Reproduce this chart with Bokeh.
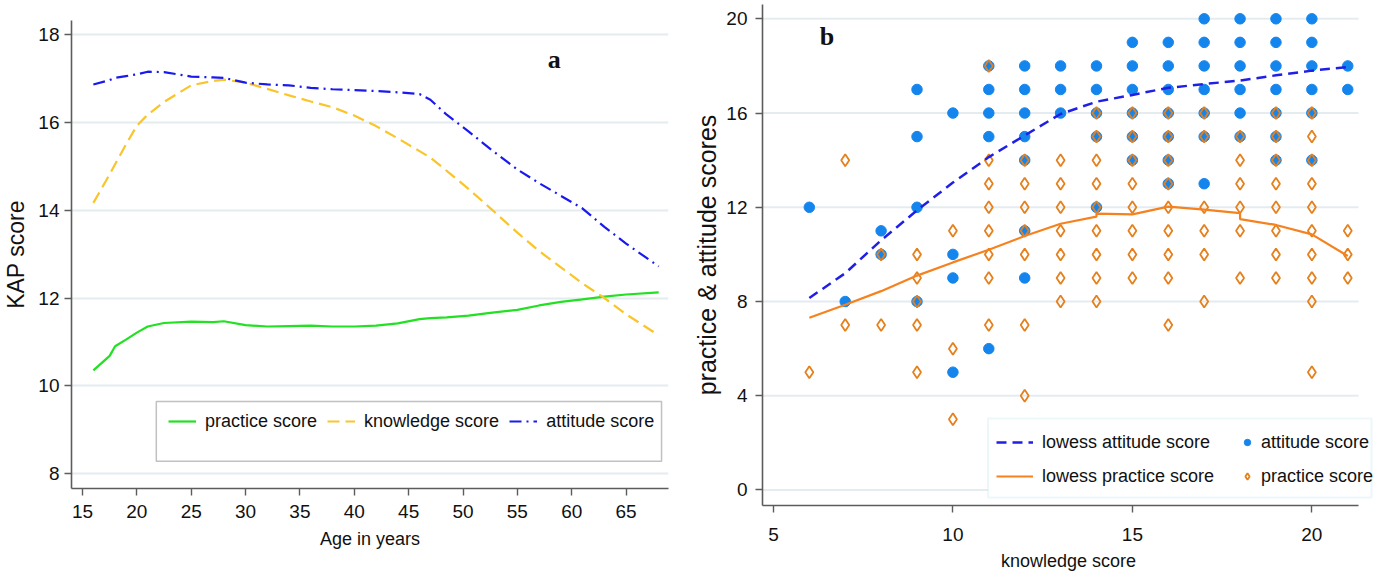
from bokeh.plotting import figure
from bokeh.layouts import row
from bokeh.models import Legend, LegendItem, FixedTicker, Range1d, BoxAnnotation, Label
from bokeh.embed import file_html
from bokeh.resources import INLINE

# ---------------- Panel a: lowess of KAP scores by age ----------------
age = [16, 17.5, 18, 19, 20, 21, 22.5, 25, 27, 28, 30, 32, 34, 36, 38, 40, 42, 44,
       46, 47, 48.5, 50.5, 52.5, 55, 57, 59, 61, 63, 65, 68]
practice_a = [10.35, 10.68, 10.9, 11.05, 11.21, 11.35, 11.43, 11.46, 11.45, 11.47, 11.38,
              11.35, 11.36, 11.37, 11.35, 11.35, 11.37, 11.42, 11.52, 11.54, 11.56, 11.6,
              11.66, 11.73, 11.83, 11.91, 11.97, 12.03, 12.08, 12.13]
knowledge_a = [14.17, 14.82, 15.05, 15.5, 15.93, 16.18, 16.47, 16.85, 16.95, 16.98, 16.91,
               16.77, 16.62, 16.48, 16.35, 16.16, 15.92, 15.64, 15.35, 15.2, 14.9, 14.49,
               14.05, 13.49, 13.07, 12.7, 12.33, 12.0, 11.63, 11.15]
attitude_a = [16.87, 16.97, 17.02, 17.06, 17.1, 17.16, 17.15, 17.05, 17.03, 17.02, 16.91,
              16.87, 16.85, 16.79, 16.76, 16.74, 16.72, 16.69, 16.65, 16.52, 16.18, 15.8,
              15.4, 14.93, 14.62, 14.33, 14.04, 13.62, 13.24, 12.72]
a_xticks = [15, 20, 25, 30, 35, 40, 45, 50, 55, 60, 65]
a_yticks = [8, 10, 12, 14, 16, 18]

# ---------------- Panel b: scores vs knowledge score ----------------
att_k = [6, 7, 8, 8, 9, 9, 9, 9, 10, 10, 10, 10, 11, 11, 11, 11, 11,
         12, 12, 12, 12, 12, 12, 12, 13, 13, 13, 14, 14, 14, 14, 14,
         15, 15, 15, 15, 15, 15, 16, 16, 16, 16, 16, 16, 16,
         17, 17, 17, 17, 17, 17, 17, 18, 18, 18, 18, 18, 18,
         19, 19, 19, 19, 19, 19, 19, 20, 20, 20, 20, 20, 20, 21, 21]
att_s = [12, 8, 11, 10, 17, 15, 12, 8, 16, 10, 9, 5, 18, 17, 16, 15, 6,
         18, 17, 16, 15, 14, 11, 9, 18, 17, 16, 18, 17, 16, 15, 12,
         19, 18, 17, 16, 15, 14, 19, 18, 17, 16, 15, 14, 13,
         20, 19, 18, 17, 16, 15, 13, 20, 19, 18, 17, 16, 15,
         20, 19, 18, 17, 16, 15, 14, 20, 19, 18, 17, 16, 14, 18, 17]
prac_k = [6, 7, 7, 8, 8, 9, 9, 9, 9, 9, 10, 10, 10,
          11, 11, 11, 11, 11, 11, 11, 11, 12, 12, 12, 12, 12, 12, 12,
          13, 13, 13, 13, 13, 13, 13, 14, 14, 14, 14, 14, 14, 14, 14, 14,
          15, 15, 15, 15, 15, 15, 15, 15, 16, 16, 16, 16, 16, 16, 16, 16, 16,
          17, 17, 17, 17, 17, 17, 18, 18, 18, 18, 18, 18,
          19, 19, 19, 19, 19, 19, 19, 19, 20, 20, 20, 20, 20, 20, 20, 20, 20, 20,
          21, 21, 21]
prac_s = [5, 14, 7, 10, 7, 10, 9, 8, 7, 5, 11, 6, 3,
          18, 14, 13, 12, 11, 10, 9, 7, 14, 13, 12, 11, 10, 7, 4,
          14, 13, 12, 11, 10, 9, 8, 16, 15, 14, 13, 12, 11, 10, 9, 8,
          16, 15, 14, 13, 12, 11, 10, 9, 16, 15, 14, 13, 12, 11, 10, 9, 7,
          16, 15, 12, 11, 10, 8, 15, 14, 13, 12, 11, 9,
          16, 15, 14, 13, 12, 11, 10, 9, 16, 15, 14, 13, 12, 11, 10, 9, 8, 5,
          11, 10, 9]
lowess_att_k = [6, 7, 8, 9, 10, 11, 12, 13, 14, 15, 16, 17, 18, 19, 20, 21]
lowess_att_s = [8.15, 9.2, 10.6, 11.87, 13.05, 14.13, 15.05, 15.96, 16.48, 16.77, 17.07,
                17.23, 17.38, 17.6, 17.8, 17.95]
lowess_prac_k = [6, 7, 8, 9, 10, 11, 12, 13, 14, 14, 15, 16, 17, 18, 18, 19, 20, 21]
lowess_prac_s = [7.31, 7.86, 8.44, 9.1, 9.66, 10.2, 10.78, 11.3, 11.6, 11.73, 11.7, 12.03,
                 11.9, 11.75, 11.5, 11.25, 10.85, 9.93]
b_xticks = [5, 10, 15, 20]
b_yticks = [0, 4, 8, 12, 16, 20]

SANS = "Liberation Sans"
GRID = "#e4ecf0"
AXC = "#5c5c5c"
TXT = "#111111"


def style(p, xticks, yticks, ytitle_size, ylab_standoff, ytitle_standoff,
          xlab_standoff, xtitle_standoff):
    p.outline_line_color = None
    p.background_fill_color = "white"
    p.border_fill_color = "white"
    p.xgrid.grid_line_color = None
    p.ygrid.grid_line_color = GRID
    p.ygrid.grid_line_width = 2
    p.xaxis.ticker = FixedTicker(ticks=xticks)
    p.yaxis.ticker = FixedTicker(ticks=yticks)
    for ax in (p.xaxis[0], p.yaxis[0]):
        ax.axis_line_color = AXC
        ax.axis_line_width = 1.6
        ax.major_tick_line_color = AXC
        ax.major_tick_line_width = 1.4
        ax.major_tick_out = 7
        ax.major_tick_in = 0
        ax.minor_tick_line_color = None
        ax.major_label_text_font = SANS
        ax.major_label_text_font_size = "19px"
        ax.major_label_text_color = TXT
        ax.axis_label_text_font_style = "normal"
        ax.axis_label_text_color = TXT
        ax.axis_label_text_font = SANS
    p.xaxis.major_label_standoff = xlab_standoff
    p.yaxis.major_label_standoff = ylab_standoff
    p.xaxis.axis_label_text_font_size = "18px"
    p.xaxis.axis_label_standoff = xtitle_standoff
    p.yaxis.axis_label_text_font_size = ytitle_size
    p.yaxis.axis_label_standoff = ytitle_standoff


def legend(items, loc, glyph_w, standoff):
    return Legend(items=items, location=loc, orientation="vertical",
                  border_line_color=None, background_fill_alpha=0.0,
                  padding=0, margin=0, spacing=8, glyph_width=glyph_w, glyph_height=20,
                  label_standoff=standoff, label_height=26,
                  label_text_font=SANS, label_text_font_size="18px",
                  label_text_color=TXT)


# ---------------- figure a ----------------
pa = figure(width=690, height=580, x_range=Range1d(13.99, 68.9), y_range=Range1d(7.656, 18.328),
            output_backend="svg", toolbar_location=None, frame_align=False,
            min_border_left=70, min_border_right=22, min_border_top=20, min_border_bottom=92)
style(pa, a_xticks, a_yticks, "23px", 5, 6, 9, 8)
pa.xaxis.axis_label = "Age in years"
pa.yaxis.axis_label = "KAP score"

r_prac = pa.line(age, practice_a, line_color="#22e022", line_width=2.2)
r_know = pa.line(age, knowledge_a, line_color="#f9c52a", line_width=2.2, line_dash="12 6")
r_att = pa.line(age, attitude_a, line_color="#1a1aee", line_width=2.2, line_dash="12 5 2 5")

pa.add_layout(BoxAnnotation(left=21.79, right=68.26, bottom=8.278, top=9.639,
                            fill_color="white", fill_alpha=1.0,
                            line_color="#333333", line_width=1.5))
leg_a = Legend(items=[LegendItem(label="practice score", renderers=[r_prac]),
                      LegendItem(label="knowledge score", renderers=[r_know]),
                      LegendItem(label="attitude score", renderers=[r_att])],
               location=(97, 56), orientation="horizontal",
               border_line_color=None, background_fill_alpha=0.0,
               padding=0, margin=0, spacing=10, glyph_width=28, glyph_height=20,
               label_standoff=9, label_height=22,
               label_text_font=SANS, label_text_font_size="18px",
               label_text_color=TXT)
pa.add_layout(leg_a)
pa.add_layout(Label(x=58.39, y=17.45, text="a", text_font="Liberation Serif",
                    text_font_style="bold", text_font_size="26px",
                    text_align="center", text_baseline="middle", text_color=TXT))

# ---------------- figure b ----------------
bx0, bx1 = 4.6955, 21.3
pb = figure(width=692, height=580, x_range=Range1d(bx0, 21.745), y_range=Range1d(-0.658, 20.607),
            output_backend="svg", toolbar_location=None, frame_align=False,
            min_border_left=68, min_border_right=8, min_border_top=4, min_border_bottom=75)
style(pb, b_xticks, b_yticks, "25px", 8, 2, 15, 7)
pb.ygrid.grid_line_color = None
pb.xaxis.bounds = (bx0, bx1)
pb.xaxis.axis_label = "knowledge score"
pb.yaxis.axis_label = "practice & attitude scores"

pb.segment(x0=[bx0] * len(b_yticks), x1=[bx1] * len(b_yticks), y0=b_yticks, y1=b_yticks,
           line_color=GRID, line_width=2)

r_as = pb.scatter(att_k, att_s, marker="circle", size=10.5, fill_color="#1585ee",
                  line_color="#1585ee")
r_ps = pb.scatter(prac_k, prac_s, marker="diamond", size=12, fill_color=None,
                  line_color="#e5801c", line_width=1.8)
r_la = pb.line(lowess_att_k, lowess_att_s, line_color="#1f1fe6", line_width=2.5,
               line_dash="10 6")
r_lp = pb.line(lowess_prac_k, lowess_prac_s, line_color="#f5821f", line_width=2.2)

pb.add_layout(BoxAnnotation(left=10.978, right=21.662, bottom=-0.318, top=3.035,
                            fill_color="white", fill_alpha=1.0,
                            line_color="#bfe3ee", line_width=2))
pb.add_layout(legend([LegendItem(label="lowess attitude score", renderers=[r_la]),
                      LegendItem(label="lowess practice score", renderers=[r_lp])],
                     (234, 16), 37, 9))
pb.add_layout(legend([LegendItem(label="attitude score", renderers=[r_as]),
                      LegendItem(label="practice score", renderers=[r_ps])],
                     (477, 16), 16, 6))
pb.add_layout(Label(x=6.495, y=19.25, text="b", text_font="Liberation Serif",
                    text_font_style="bold", text_font_size="26px",
                    text_align="center", text_baseline="middle", text_color=TXT))

layout = row(pa, pb)
open("out.html", "w").write(file_html(layout, INLINE))
